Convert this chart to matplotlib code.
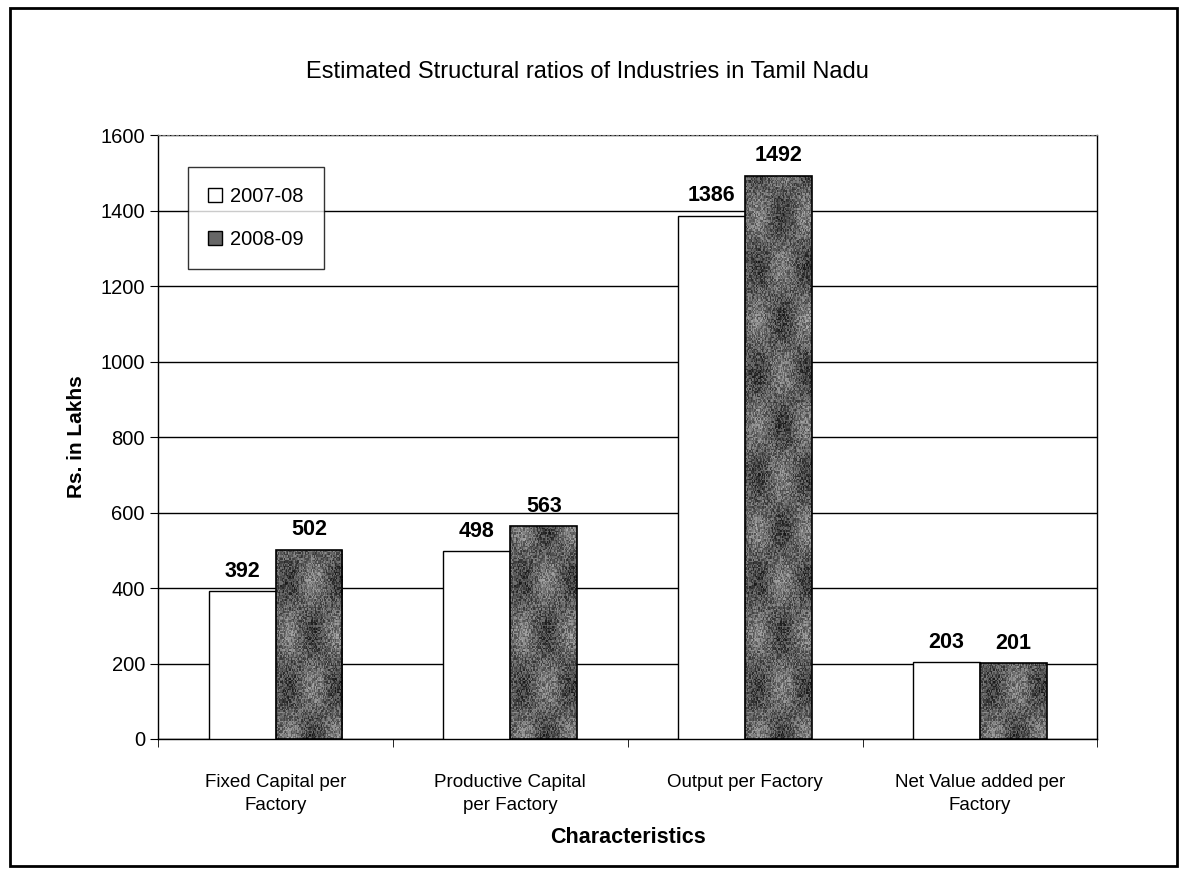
import matplotlib.pyplot as plt
import numpy as np
from matplotlib.patches import Rectangle, Patch

plt.rcParams['font.family'] = ['Liberation Sans', 'DejaVu Sans']

categories = ["Fixed Capital per\nFactory", "Productive Capital\nper Factory",
              "Output per Factory", "Net Value added per\nFactory"]
y2007 = [392, 498, 1386, 203]
y2008 = [502, 563, 1492, 201]
yticks = [0, 200, 400, 600, 800, 1000, 1200, 1400, 1600]


def speckle(nx, ny):
    # deterministic hash noise for the grainy grey fill
    xx, yy = np.meshgrid(np.arange(nx), np.arange(ny))
    n = np.sin(xx * 12.9898 + yy * 78.233) * 43758.5453
    n = n - np.floor(n)
    lo = 0.5 + 0.25 * np.sin(xx / 7.0) * np.cos(yy / 11.0)
    return np.clip(0.35 * n + 0.5 * lo - 0.05, 0, 1)


fig = plt.figure(figsize=(11.8, 8.69), dpi=100)
ax = fig.add_axes([0.134, 0.1496, 0.796, 0.695])

x = np.arange(len(categories))
w = 0.285
ax.bar(x - w / 2, y2007, w, facecolor="white", edgecolor="black", linewidth=1, zorder=3)
gb = ax.bar(x + w / 2, y2008, w, facecolor="none", edgecolor="black", linewidth=1.2, zorder=4)
for b in gb:
    x0, h = b.get_x(), b.get_height()
    img = ax.imshow(speckle(60, max(int(h / 4), 10)), cmap="gray", vmin=0, vmax=1,
                    extent=(x0, x0 + w, 0, h), aspect="auto", origin="lower",
                    interpolation="nearest", zorder=3)
    img.set_clip_path(b)

for i in range(len(categories)):
    ax.text(x[i] - w / 2, y2007[i] + 25, str(y2007[i]), ha="center", va="bottom",
            fontsize=15.5, fontweight="bold")
    ax.text(x[i] + w / 2, y2008[i] + 25, str(y2008[i]), ha="center", va="bottom",
            fontsize=15.5, fontweight="bold")

ax.set_xlim(-0.5, len(categories) - 0.5)
ax.set_ylim(0, 1600)
ax.set_yticks(yticks)
ax.set_yticklabels([str(v) for v in yticks], fontsize=14.5)
ax.yaxis.grid(True, color="black", linewidth=1, zorder=0)
ax.set_axisbelow(True)

ax.set_xticks(x)
ax.set_xticklabels(categories, fontsize=13.5, linespacing=1.5)
ax.tick_params(axis="x", length=0, pad=25)
ax.set_xticks(np.arange(-0.5, len(categories)), minor=True)
ax.tick_params(axis="x", which="minor", length=6, direction="out")
ax.tick_params(axis="y", length=6, direction="out")

ax.spines["top"].set_linestyle((0, (2, 2)))
ax.spines["top"].set_color("#777777")
for s in ["left", "bottom", "right"]:
    ax.spines[s].set_linewidth(1)

ax.set_ylabel("Rs. in Lakhs", fontsize=15, fontweight="bold", labelpad=10)
ax.set_xlabel("Characteristics", fontsize=15.5, fontweight="bold", labelpad=9)

handles = [Patch(facecolor="white", edgecolor="black", label="2007-08"),
           Patch(facecolor="#666666", edgecolor="black", label="2008-09")]
leg = ax.legend(handles=handles, loc="upper left", bbox_to_anchor=(0.032, 0.947),
                fontsize=14.5, frameon=True, fancybox=False, edgecolor="black",
                handlelength=0.7, handleheight=0.7, handletextpad=0.4,
                labelspacing=1.2, borderpad=1.0, borderaxespad=0)
leg.get_frame().set_linewidth(1)
leg.set_zorder(5)

fig.text(0.498, 0.917, "Estimated Structural ratios of Industries in Tamil Nadu",
         ha="center", va="center", fontsize=17)

fig.patches.append(Rectangle((0.0085, 0.004), 0.989, 0.987, transform=fig.transFigure,
                             fill=False, edgecolor="black", linewidth=2))

plt.savefig("out.png", format="png")
